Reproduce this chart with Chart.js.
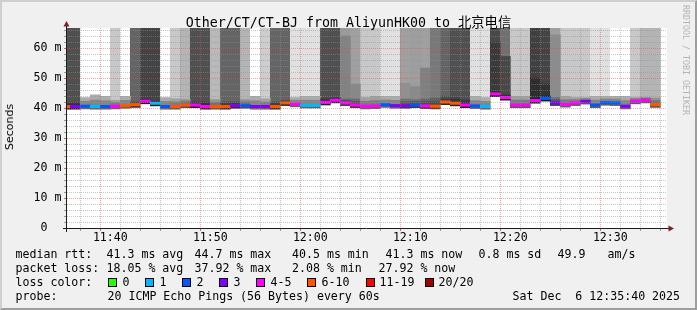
<!DOCTYPE html>
<html>
<head>
<meta charset="utf-8">
<script src="https://cdn.jsdelivr.net/npm/chart.js@4/dist/chart.umd.min.js"></script>
<style>
html,body{margin:0;padding:0;background:#f0f0f0;width:697px;height:310px;overflow:hidden;}
#frame{position:absolute;left:0;top:0;width:697px;height:310px;box-sizing:border-box;
  border-top:2px solid #cfcfcf;border-left:2px solid #cfcfcf;border-right:2px solid #9e9e9e;border-bottom:2px solid #9e9e9e;background:#f0f0f0;}
#c{position:absolute;left:0;top:0;}
.t{position:absolute;font-family:'DejaVu Sans Mono',monospace;font-size:11.6px;line-height:14px;white-space:pre;color:#000;}
#title{position:absolute;left:0;top:15px;width:697px;text-align:center;font-family:'DejaVu Sans Mono','Noto Sans CJK SC',monospace;font-size:13.3px;line-height:16px;white-space:pre;color:#000;}
#ylab{position:absolute;left:10px;top:127px;transform:translate(-50%,-50%) rotate(-90deg);font-family:'DejaVu Sans',sans-serif;font-size:11px;line-height:12px;white-space:pre;color:#000;}
#rrd{position:absolute;left:681px;top:5px;writing-mode:vertical-rl;font-family:'DejaVu Sans Mono',monospace;font-size:8.3px;line-height:10px;color:#b4b4b4;white-space:pre;}
.sw{position:absolute;width:9px;height:9px;box-sizing:border-box;border:1px solid #000;top:278px;}
</style>
</head>
<body>
<div id="frame"></div>
<canvas id="c" width="697" height="250"></canvas>
<div id="title">Other/CT/CT-BJ from AliyunHK00 to 北京电信</div>
<div id="ylab">Seconds</div>
<div id="rrd">RRDTOOL / TOBI OETIKER</div>
<div id="legend"></div>
<script>
// ---------- data ----------
const columnStarts = ['11:35','11:36','11:37','11:38','11:39','11:40','11:41','11:42','11:43','11:44',
  '11:45','11:46','11:47','11:48','11:49','11:50','11:51','11:52','11:53','11:54',
  '11:55','11:56','11:57','11:58','11:59','12:00','12:01','12:02','12:03','12:04',
  '12:05','12:06','12:07','12:08','12:09','12:10','12:11','12:12','12:13','12:14',
  '12:15','12:16','12:17','12:18','12:19','12:20','12:21','12:22','12:23','12:24',
  '12:25','12:26','12:27','12:28','12:29','12:30','12:31','12:32','12:33','12:34'];
const endTime = '12:35:40';
// median rtt per minute (ms)
const medianMs = [40.5,40.5,40.6,40.5,40.5,40.6,40.8,41.1,42.3,41.6,
  40.5,40.5,41.0,41.0,40.5,40.5,40.5,40.8,40.8,40.5,
  40.5,40.5,41.7,41.3,40.9,40.9,41.9,42.6,41.7,41.0,
  40.6,40.7,41.1,40.8,40.8,41.0,40.7,40.6,42.0,41.6,
  41.0,40.7,40.5,44.7,43.5,41.0,41.0,42.5,43.2,41.7,
  41.2,41.7,42.2,41.0,41.8,41.7,40.6,42.3,42.6,41.1];
// loss bucket index per minute (into lossLabels)
const lossBucket = [5,3,2,1,2,4,5,5,4,1,
  2,5,5,4,4,5,5,3,2,3,
  3,5,5,4,1,1,4,4,4,4,
  4,4,2,3,3,2,4,5,5,5,
  4,2,1,4,4,4,4,4,2,3,
  4,4,3,2,2,2,3,4,4,5];
// where the dense smoke ends (ms)
const smokeTopMs = [41.8,41.8,43.5,44.4,43.9,42.6,43.9,42.0,43.0,42.3,
  43.5,43.1,42.8,42.0,42.0,42.8,42.0,42.0,42.8,43.9,
  43.1,42.0,42.5,43.5,43.9,43.9,43.3,43.5,43.0,43.0,
  43.5,43.9,43.9,43.9,43.0,42.8,43.0,43.3,43.9,43.5,
  42.8,43.9,43.5,45.5,44.5,43.9,43.9,43.5,44.0,43.5,
  43.9,43.5,43.5,43.9,43.9,43.9,43.9,43.5,43.5,43.3];
// smoke density (grey level) of the upper smoke per minute
const upperDensity = [80,80,255,255,255,200,255,100,68,68,
  255,200,180,80,80,185,100,100,180,255,
  205,100,100,224,224,224,80,80,155,160,
  200,200,224,224,160,158,160,120,100,80,
  80,224,224,72,112,200,200,64,68,160,
  200,200,200,224,224,255,255,200,180,180];
// second smoke level (null = none)
const splitMs = [null,null,null,null,null,null,null,null,null,null,
  null,null,null,null,null,null,null,null,null,null,
  null,null,null,null,null,null,null,null,64,48,
  null,null,null,null,48.3,47.2,53.3,null,null,null,
  null,null,null,62,57.2,null,null,50,48,64.4,
  null,null,null,null,null,null,null,null,null,null];
const lowerDensity = [null,null,null,null,null,null,null,null,null,null,
  null,null,null,null,null,null,null,null,null,null,
  null,null,null,null,null,null,null,null,130,136,
  null,null,null,null,144,138,128,null,null,null,
  null,null,null,58,72,null,null,46,50,140,
  null,null,null,null,null,null,null,null,null,null];
const lossLabels = ['0','1','2','3','4-5','6-10','11-19','20/20'];
const lossColors = ['#26ff00','#00b8ff','#0059ff','#7e00ff','#ff00ff','#ff5500','#ff0000','#a10000'];
const xTickTimes = ['11:40','11:50','12:00','12:10','12:20','12:30'];
const yTickValues = [0,10,20,30,40,50,60];
const yTickLabels = ['0  ','10 m','20 m','30 m','40 m','50 m','60 m'];
const statsRtt = ['41.3 ms avg','44.7 ms max','40.5 ms min','41.3 ms now','0.8 ms sd','49.9','am/s'];
const statsLoss = ['18.05 % avg','37.92 % max','2.08 % min','27.92 % now'];
const probeText = '20 ICMP Echo Pings (56 Bytes) every 60s';
const stampText = 'Sat Dec  6 12:35:40 2025';

// ---------- helpers ----------
function minutesOf(s){const p=s.split(':').map(Number);return (p[0]-11)*60+p[1]+(p[2]||0)/60;}
const xMax = minutesOf(endTime);
const xMin = xMax - 60;
const yMax = 200/3;
const xMid = columnStarts.map(s => minutesOf(s) + 0.5);
const gray = v => { v = Math.max(0, Math.min(255, Math.round(v))); return 'rgb(' + v + ',' + v + ',' + v + ')'; };
const baseDensity = i => Math.min(lowerDensity[i] != null ? lowerDensity[i] : upperDensity[i], 215);
const splitAt = i => splitMs[i] != null ? splitMs[i] : smokeTopMs[i];
const coreTop = i => Math.max(medianMs[i] + 0.4, (medianMs[i] + 0.4 + smokeTopMs[i]) / 2);
function band(lo, hi){ return xMid.map((x, i) => ({x: x, y: [lo(i), Math.max(lo(i), hi(i))]})); }

const datasets = [
  {label:'median', data: band(i => medianMs[i] - 0.4, i => medianMs[i] + 0.4),
    backgroundColor: lossBucket.map(b => lossColors[b])},
  {label:'below', data: band(i => medianMs[i] - 0.9, i => medianMs[i] - 0.4),
    backgroundColor: medianMs.map((m, i) => gray(baseDensity(i) * 0.45))},
  {label:'core', data: band(i => medianMs[i] + 0.4, coreTop),
    backgroundColor: medianMs.map((m, i) => gray(baseDensity(i) * 0.62))},
  {label:'shoulder', data: band(coreTop, i => smokeTopMs[i]),
    backgroundColor: medianMs.map((m, i) => gray(baseDensity(i) * 0.8))},
  {label:'smoke-low', data: band(i => smokeTopMs[i], splitAt),
    backgroundColor: medianMs.map((m, i) => gray(lowerDensity[i] != null ? lowerDensity[i] : upperDensity[i]))},
  {label:'smoke-high', data: band(splitAt, i => yMax + 5),
    backgroundColor: upperDensity.map(v => gray(v))}
];

const xMajor = xTickTimes.map(minutesOf);
const xGrid = [];
for (let m = Math.ceil(xMin / 2) * 2; m <= xMax; m += 2) xGrid.push(m);
const yGrid = [];
for (let v = 0; v <= yMax; v += 2) yGrid.push(v);

const MINOR = 'rgba(143,143,143,0.5)';
const MAJOR = 'rgba(222,81,81,0.5)';

const framePlugin = {
  id: 'framePlugin',
  beforeDraw(chart){
    const {ctx, chartArea: a} = chart;
    ctx.save();
    ctx.fillStyle = '#ffffff';
    ctx.fillRect(a.left, a.top, a.right - a.left, a.bottom - a.top);
    ctx.restore();
  },
  afterDraw(chart){
    const {ctx, chartArea: a} = chart;
    ctx.save();
    ctx.strokeStyle = '#1c1c1c';
    ctx.lineWidth = 1;
    ctx.beginPath();
    ctx.moveTo(a.left - 0.5, a.bottom + 4);
    ctx.lineTo(a.left - 0.5, a.top - 3);
    ctx.moveTo(a.left - 4, a.bottom + 0.5);
    ctx.lineTo(a.right + 3, a.bottom + 0.5);
    ctx.stroke();
    ctx.fillStyle = '#7f1f1f';
    ctx.beginPath();
    ctx.moveTo(a.left - 0.5, a.top - 7);
    ctx.lineTo(a.left - 3.5, a.top - 1.5);
    ctx.lineTo(a.left + 2.5, a.top - 1.5);
    ctx.closePath();
    ctx.fill();
    ctx.beginPath();
    ctx.moveTo(a.right + 7, a.bottom + 0.5);
    ctx.lineTo(a.right + 1.5, a.bottom - 2.5);
    ctx.lineTo(a.right + 1.5, a.bottom + 3.5);
    ctx.closePath();
    ctx.fill();
    ctx.restore();
  }
};

const tickFont = {family: "'DejaVu Sans Mono', monospace", size: 11.6};

new Chart(document.getElementById('c'), {
  type: 'bar',
  data: {datasets: datasets},
  plugins: [framePlugin],
  options: {
    responsive: false,
    animation: false,
    devicePixelRatio: 1,
    events: [],
    layout: {padding: {top: 28, right: 30, left: 0, bottom: 0}},
    plugins: {legend: {display: false}, tooltip: {enabled: false}, title: {display: false}},
    datasets: {bar: {grouped: false, barPercentage: 1, categoryPercentage: 1, borderWidth: 0, clip: 0}},
    scales: {
      x: {
        type: 'linear', min: xMin, max: xMax, bounds: 'data', offset: false,
        afterBuildTicks: s => { s.ticks = xGrid.map(v => ({value: v})); },
        afterFit: s => { s.height = 22; },
        ticks: {autoSkip: false, maxRotation: 0, minRotation: 0, padding: 0, color: '#000', font: tickFont,
          callback: v => { const k = xMajor.indexOf(v); return k >= 0 ? xTickTimes[k] : ''; }},
        grid: {z: 1, drawTicks: true, tickLength: 3, lineWidth: 1,
          color: c => (c.tick && xMajor.indexOf(c.tick.value) >= 0) ? MAJOR : MINOR,
          tickColor: c => (c.tick && xMajor.indexOf(c.tick.value) >= 0) ? 'rgba(222,81,81,0.9)' : 'rgba(143,143,143,0.9)'},
        border: {display: false, dash: [1, 1]}
      },
      y: {
        type: 'linear', min: 0, max: yMax, bounds: 'data',
        afterBuildTicks: s => { s.ticks = yGrid.map(v => ({value: v})); },
        afterFit: s => { s.width = 67; },
        ticks: {autoSkip: false, padding: 2.5, color: '#000', font: tickFont,
          callback: v => { const k = yTickValues.indexOf(v); return k >= 0 ? yTickLabels[k] : ''; }},
        grid: {z: 1, drawTicks: true, tickLength: 3, lineWidth: 1,
          color: c => (c.tick && yTickValues.indexOf(c.tick.value) >= 0) ? MAJOR : MINOR,
          tickColor: c => (c.tick && yTickValues.indexOf(c.tick.value) >= 0) ? 'rgba(222,81,81,0.9)' : 'rgba(143,143,143,0.9)'},
        border: {display: false, dash: [1, 1]}
      }
    }
  }
});

// ---------- legend text ----------
const legend = document.getElementById('legend');
function put(text, x, rowTop){
  const d = document.createElement('div');
  d.className = 't';
  d.style.left = (x - 0.5) + 'px';
  d.style.top = rowTop + 'px';
  d.textContent = text;
  legend.appendChild(d);
}
const rowTops = [247, 261, 275, 289];
put('median rtt:', 16, rowTops[0]);
[107, 195, 292.5, 386, 479, 558, 608].forEach((x, i) => put(statsRtt[i], x, rowTops[0]));
put('packet loss:', 16, rowTops[1]);
[107, 195, 292.5, 379].forEach((x, i) => put(statsLoss[i], x, rowTops[1]));
put('loss color:', 16, rowTops[2]);
const swX = [108, 145, 182, 219, 256, 307, 366, 425];
const swTextX = [123, 160, 197, 234, 271, 322, 380, 439];
lossLabels.forEach((lab, i) => {
  const s = document.createElement('div');
  s.className = 'sw';
  s.style.left = swX[i] + 'px';
  s.style.background = lossColors[i];
  legend.appendChild(s);
  put(lab, swTextX[i], rowTops[2]);
});
put('probe:', 16, rowTops[3]);
put(probeText, 108, rowTops[3]);
put(stampText, 513, rowTops[3]);
</script>
</body>
</html>
